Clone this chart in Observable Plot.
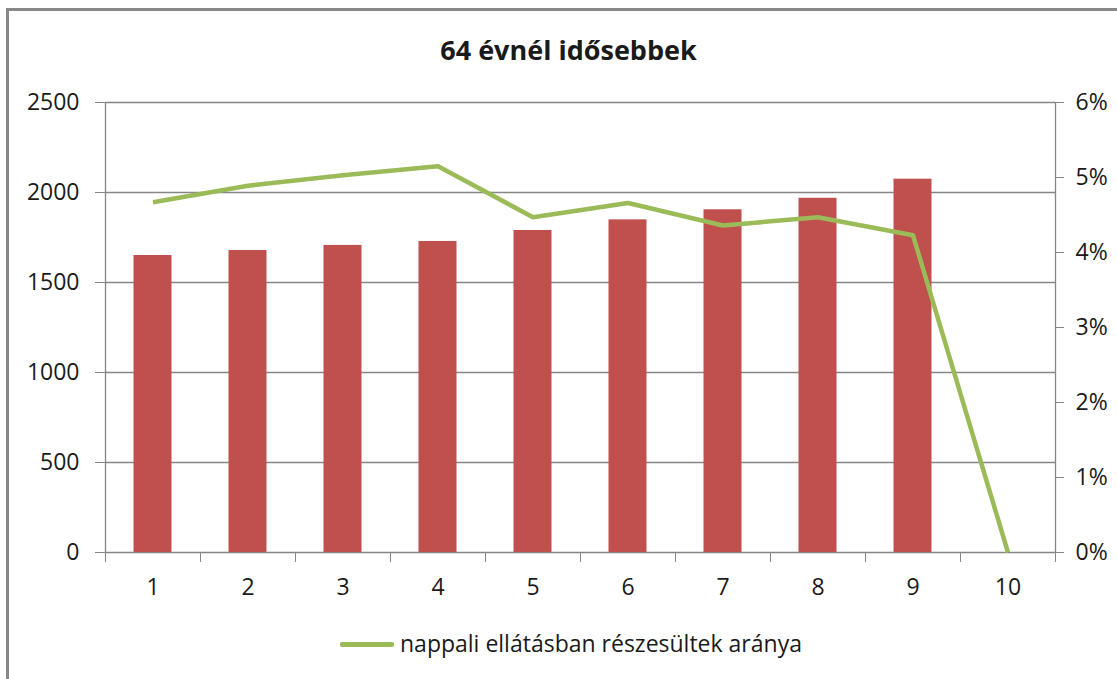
<!DOCTYPE html>
<html>
<head>
<meta charset="utf-8">
<script src="https://cdn.jsdelivr.net/npm/d3@7"></script>
<script src="https://cdn.jsdelivr.net/npm/@observablehq/plot@0.6"></script>
<style>
  html, body { margin: 0; padding: 0; background: #fff; }
  #wrap { position: relative; width: 1117px; height: 679px; overflow: hidden; font-family: "Open Sans", sans-serif; color: #1a1a1a; }
  #frame { position: absolute; left: 6px; top: 8px; right: -10px; bottom: -10px; border-top: 3px solid #888; border-left: 3px solid #888; }
  #title { position: absolute; left: 10px; width: 1117px; top: 31px; text-align: center; font-weight: 700; font-size: 27px; line-height: normal; }
  #chart { position: absolute; left: 0; top: 0; }
  #legend { position: absolute; left: 340px; top: 627px; font-size: 23px; line-height: normal; display: flex; align-items: center; white-space: nowrap; }
  #legend .swatch { display: inline-block; width: 54px; height: 5px; background: #9bbb59; margin-right: 6px; border-radius: 2px; position: relative; top: 1px; }
</style>
</head>
<body>
<div id="wrap">
  <div id="frame"></div>
  <div id="chart"></div>
  <div id="title">64 évnél idősebbek</div>
  <div id="legend"><span class="swatch"></span><span>nappali ellátásban részesültek aránya</span></div>
</div>
<script>
// ---- data ----
const categories = [1, 2, 3, 4, 5, 6, 7, 8, 9, 10];
const population = [1650, 1678, 1706, 1728, 1789, 1848, 1904, 1968, 2074, null];
const sharePct = [4.67, 4.89, 5.03, 5.15, 4.47, 4.66, 4.36, 4.47, 4.23, 0];
const leftTicks = [0, 500, 1000, 1500, 2000, 2500];
const rightTicks = [0, 1, 2, 3, 4, 5, 6];
const seriesName = "nappali ellátásban részesültek aránya";

const leftMax = 2500;
const rightMax = 6;
const toLeft = p => p * leftMax / rightMax;

const rows = categories.map((c, i) => ({cat: c, pop: population[i], pct: sharePct[i]}));
const boundaries = [categories[0] - 0.5, ...categories.map(c => c + 0.5)];

const grid = "#868686";
const ink = "#1a1a1a";

const chart = Plot.plot({
  width: 1117,
  height: 679,
  marginLeft: 105,
  marginRight: 62,
  marginTop: 102,
  marginBottom: 127,
  style: {fontFamily: "Open Sans, sans-serif", fontSize: "23px", background: "transparent", color: ink},
  x: {type: "linear", domain: [categories[0] - 0.5, categories[categories.length - 1] + 0.5]},
  y: {domain: [0, leftMax]},
  marks: [
    Plot.ruleY(leftTicks, {stroke: grid, strokeWidth: 1.3}),
    Plot.ruleX([boundaries[0], boundaries[boundaries.length - 1]], {stroke: grid, strokeWidth: 1.3}),
    Plot.rectY(rows.filter(d => d.pop != null), {
      x1: d => d.cat - 0.5, x2: d => d.cat + 0.5, y1: 0, y2: "pop",
      insetLeft: 28.5, insetRight: 28.5, fill: "#c0504d"
    }),
    Plot.line(rows, {x: "cat", y: d => toLeft(d.pct), stroke: "#9bbb59", strokeWidth: 4.5, strokeLinejoin: "round", strokeLinecap: "butt"}),
    Plot.axisY({ticks: leftTicks, tickSize: 10, tickPadding: 16, stroke: grid, fill: ink, fontSize: 23, label: null, tickFormat: d => String(d)}),
    Plot.axisY({anchor: "right", ticks: rightTicks.map(toLeft), tickSize: 8, tickPadding: 12, stroke: grid, fill: ink, fontSize: 23, label: null,
      tickFormat: d => Math.round(d * rightMax / leftMax) + "%"}),
    Plot.axisX({ticks: boundaries, tickSize: 10, stroke: grid, tickFormat: () => "", label: null}),
    Plot.axisX({ticks: categories, tickSize: 0, tickPadding: 26, fill: ink, fontSize: 23, label: null, tickFormat: d => String(d)})
  ]
});
document.getElementById("chart").appendChild(chart);
</script>
</body>
</html>
